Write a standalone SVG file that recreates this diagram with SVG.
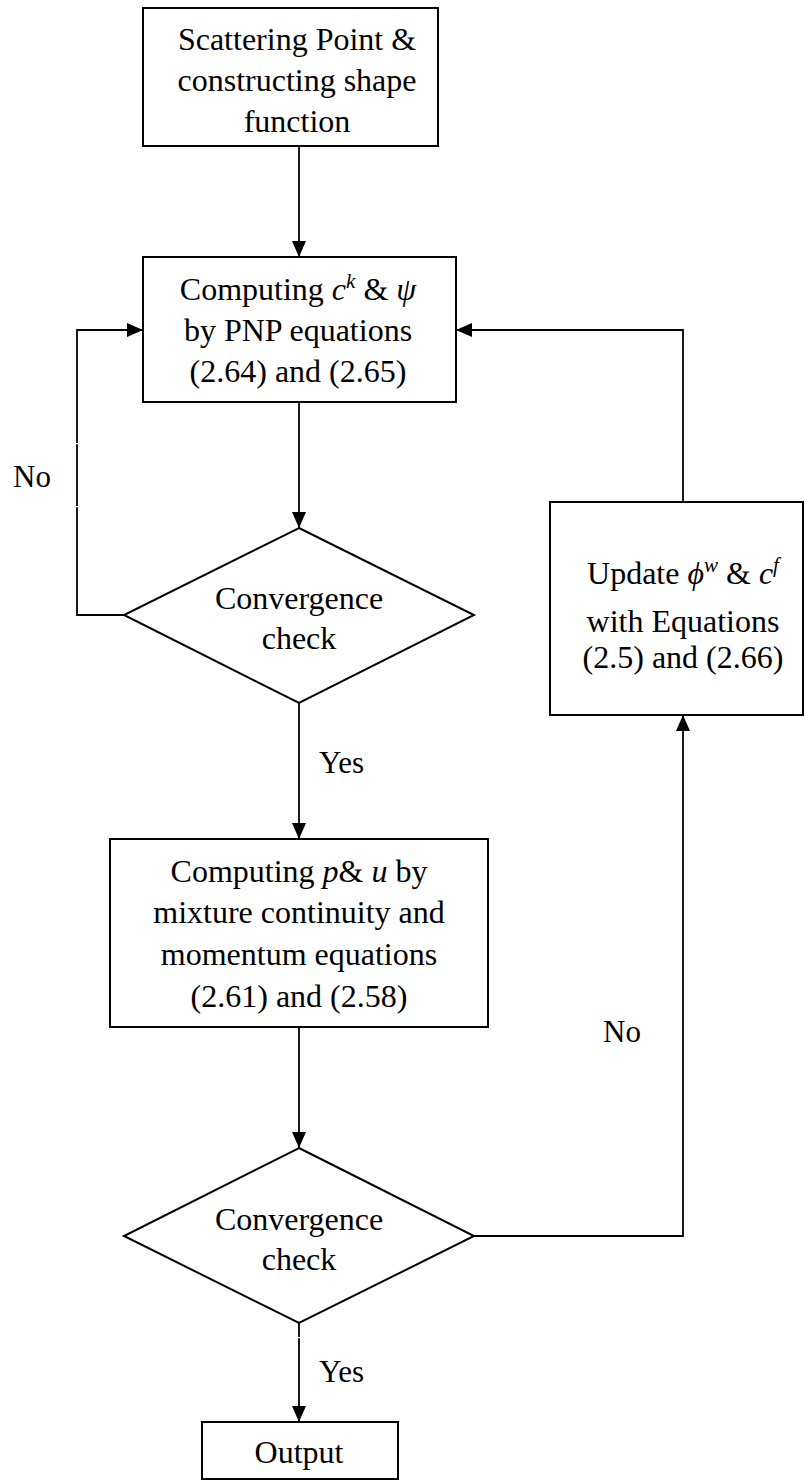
<svg xmlns="http://www.w3.org/2000/svg" width="805" height="1481" viewBox="0 0 805 1481">
<defs>
<marker id="arr" markerUnits="userSpaceOnUse" markerWidth="16" markerHeight="14" viewBox="0 0 16 14" refX="16" refY="7" orient="auto">
<path d="M0,0 L16,7 L0,14 z" fill="#000"/>
</marker>
</defs>
<style>
.box{fill:#fff;stroke:#000;stroke-width:2}
.t{font-family:"Liberation Serif","Times New Roman",serif;font-size:32px;fill:#000;text-anchor:middle}
.lbl{font-family:"Liberation Serif","Times New Roman",serif;font-size:31px;fill:#000}
.i{font-style:italic}
.sup{font-size:21px;font-style:italic}
.c{fill:none;stroke:#000;stroke-width:1.8}
.gap{fill:#fff}
</style>
<rect width="805" height="1481" fill="#fff"/>
<g id="connectors">
<path class="c" d="M299,146 V257" marker-end="url(#arr)"/>
<path class="c" d="M299,402 V528" marker-end="url(#arr)"/>
<path class="c" d="M124,615 H77 V330 H143" marker-end="url(#arr)"/>
<path class="c" d="M299,703 V839" marker-end="url(#arr)"/>
<path class="c" d="M299,1027 V1148" marker-end="url(#arr)"/>
<path class="c" d="M474,1236 H683 V715" marker-end="url(#arr)"/>
<path class="c" d="M683,502 V330 H456" marker-end="url(#arr)"/>
<path class="c" d="M299,1323 V1422" marker-end="url(#arr)"/>
<rect class="gap" x="75" y="443" width="4" height="1.2"/>
<rect class="gap" x="75" y="506" width="4" height="1.2"/>
<rect class="gap" x="297" y="1337" width="4" height="1.2"/>
<text class="lbl" x="13" y="487">No</text>
<text class="lbl" x="319" y="773">Yes</text>
<text class="lbl" x="603" y="1042">No</text>
<text class="lbl" x="319" y="1382">Yes</text>
</g>
<g id="start">
<rect class="box" x="143" y="8" width="295" height="138"/>
<text class="t" x="297" y="50">Scattering Point &amp;</text>
<text class="t" x="297" y="91">constructing shape</text>
<text class="t" x="297" y="132">function</text>
</g>
<g id="pnp">
<rect class="box" x="143" y="257" width="313" height="145"/>
<text class="t" x="298" y="300">Computing <tspan class="i">c</tspan><tspan class="sup" dy="-12">k</tspan><tspan dy="12"> &amp; </tspan><tspan class="i">ψ</tspan></text>
<text class="t" x="298" y="341">by PNP equations</text>
<text class="t" x="298" y="382">(2.64) and (2.65)</text>
</g>
<g id="check1">
<polygon class="box" points="299,528 474,615 299,703 124,615"/>
<text class="t" x="299" y="609">Convergence</text>
<text class="t" x="299" y="649">check</text>
</g>
<g id="update">
<rect class="box" x="550" y="502" width="253" height="213"/>
<text class="t" x="683" y="584">Update <tspan class="i">ϕ</tspan><tspan class="sup" dy="-12">w</tspan><tspan dy="12"> &amp; </tspan><tspan class="i">c</tspan><tspan class="sup" dy="-12">f</tspan></text>
<text class="t" x="683" y="632">with Equations</text>
<text class="t" x="683" y="668">(2.5) and (2.66)</text>
</g>
<g id="flow">
<rect class="box" x="110" y="839" width="378" height="188"/>
<text class="t" x="299" y="882">Computing <tspan class="i">p</tspan>&amp; <tspan class="i">u</tspan> by</text>
<text class="t" x="299" y="923">mixture continuity and</text>
<text class="t" x="299" y="965">momentum equations</text>
<text class="t" x="299" y="1007">(2.61) and (2.58)</text>
</g>
<g id="check2">
<polygon class="box" points="299,1148 474,1236 299,1323 124,1236"/>
<text class="t" x="299" y="1230">Convergence</text>
<text class="t" x="299" y="1270">check</text>
</g>
<g id="output">
<rect class="box" x="202" y="1422" width="196" height="57"/>
<text class="t" x="299" y="1463">Output</text>
</g>
</svg>
